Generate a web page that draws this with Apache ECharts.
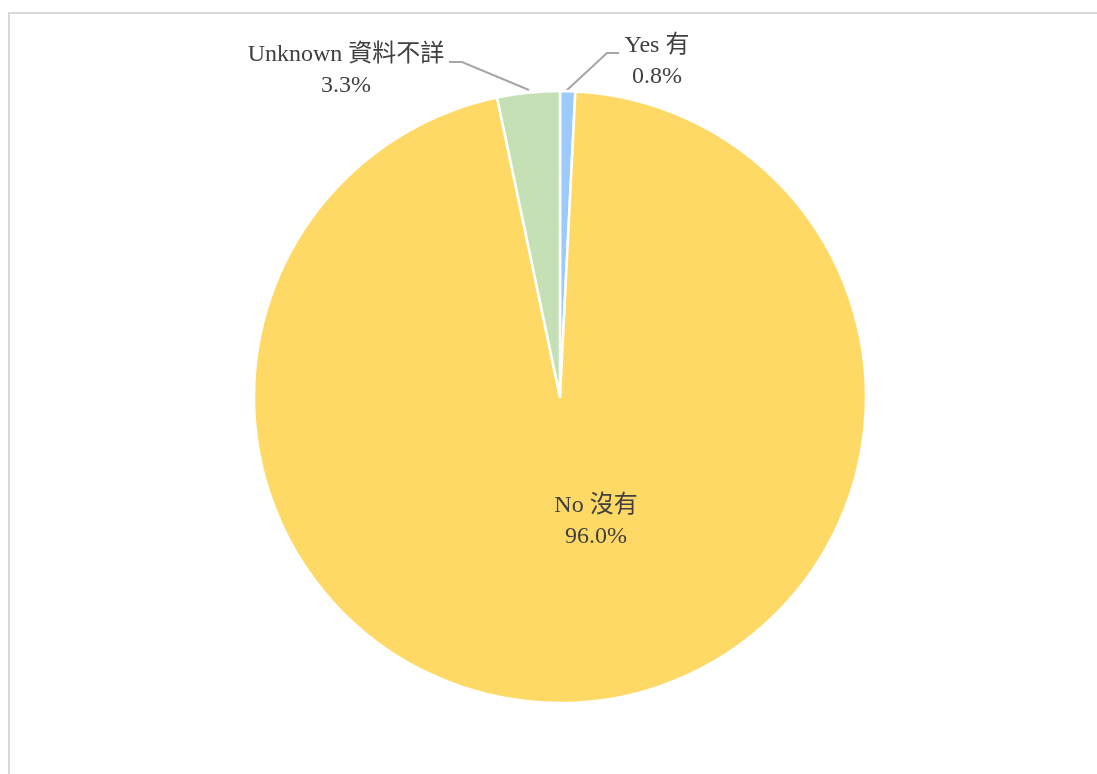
<!DOCTYPE html>
<html>
<head>
<meta charset="utf-8">
<script src="https://cdn.jsdelivr.net/npm/echarts@6/dist/echarts.min.js"></script>
<style>
    html, body { margin: 0; padding: 0; background: #fff; }
    #frame {
        position: absolute; left: 8px; top: 12px; width: 1200px; height: 900px;
        border-left: 2px solid #d9d9d9; border-top: 2px solid #d9d9d9;
    }
    #chart { position: absolute; left: 0; top: 0; width: 1097px; height: 774px; }
</style>
</head>
<body>
<div id="frame"></div>
<div id="chart"></div>
<script>
    var categories = ['Yes 有', 'No 沒有', 'Unknown 資料不詳'];
    var values = [0.8, 96.0, 3.3];
    var colors = ['#9ccbfb', '#ffd966', '#c5e0b4'];

    var font = '"Liberation Serif", "Noto Sans CJK TC", serif';

    var data = categories.map(function (name, i) {
        var item = { name: name, value: values[i], itemStyle: { color: colors[i] } };
        if (i === 1) {
            item.label = { position: 'inside' };
        }
        return item;
    });

    // where Excel put each label, and its leader line
    var labelSpots = [
        { x: 657, y: 61, line: [[566, 91], [607, 53], [619, 53]] },
        { x: 596, y: 521 },
        { x: 346, y: 70, line: [[529, 90], [462, 62], [449, 62]] }
    ];

    var option = {
        animation: false,
        series: [
            {
                type: 'pie',
                center: [560, 397],
                radius: 306,
                startAngle: 90,
                clockwise: true,
                data: data,
                itemStyle: { borderColor: '#ffffff', borderWidth: 2.5 },
                label: {
                    formatter: function (p) { return p.name + '\n' + p.value.toFixed(1) + '%'; },
                    fontFamily: font,
                    fontSize: 24,
                    lineHeight: 31,
                    color: '#404040',
                    align: 'center'
                },
                labelLine: {
                    show: true,
                    length: 40,
                    length2: 12,
                    lineStyle: { color: '#a6a6a6', width: 2 }
                },
                labelLayout: function (p) {
                    var s = labelSpots[p.dataIndex];
                    var out = { x: s.x, y: s.y, align: 'center', verticalAlign: 'middle' };
                    if (s.line) out.labelLinePoints = s.line;
                    return out;
                }
            }
        ]
    };

    var myChart = echarts.init(document.getElementById('chart'));
    myChart.setOption(option);
</script>
</body>
</html>
